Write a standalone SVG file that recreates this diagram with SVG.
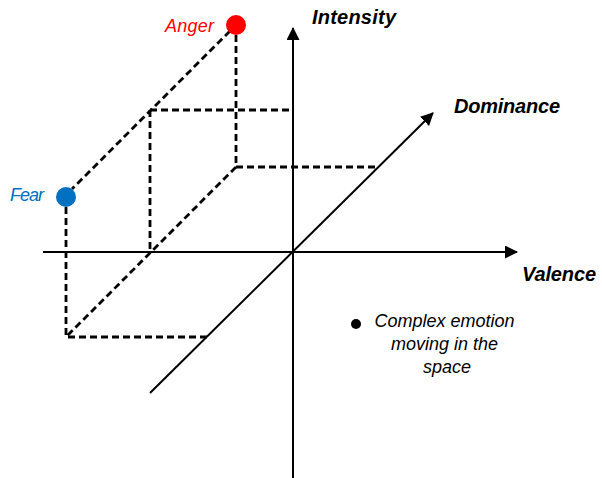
<svg xmlns="http://www.w3.org/2000/svg" width="602" height="478" viewBox="0 0 602 478">
<style>
.axis{stroke:#000;stroke-width:2;fill:none}
.dash{stroke:#000;stroke-width:2.8;fill:none;stroke-dasharray:7 4}
.lbl{font-family:"Liberation Sans",Arial,sans-serif;font-style:italic}
.ax{font-weight:bold;font-size:20px;fill:#000}
</style>
<defs>
<marker id="ah" markerUnits="userSpaceOnUse" markerWidth="13" markerHeight="13" refX="12" refY="6.5" orient="auto">
<path d="M0,0 L13,6.5 L0,13 z" fill="#000"/>
</marker>
</defs>
<rect width="602" height="478" fill="#fff"/>
<g id="connectors">
<line class="axis" x1="293" y1="478" x2="293" y2="28" marker-end="url(#ah)"/>
<line class="axis" x1="43" y1="252" x2="517" y2="252" marker-end="url(#ah)"/>
<line class="axis" x1="150" y1="393" x2="433" y2="113" marker-end="url(#ah)"/>
<path class="dash" d="M230,31 L72,189"/>
<path class="dash" d="M236,35 L236,167 L378,167"/>
<path class="dash" d="M150,110 L292,110"/>
<path class="dash" d="M150,110 L150,252"/>
<path class="dash" d="M236,167 L66,337"/>
<path class="dash" d="M66,207 L66,337 L207,337"/>
</g>
<g id="anger">
<circle cx="236" cy="25" r="10" fill="#ff0000"/>
<text class="lbl" x="165" y="32" font-size="18" fill="#ff0000" textLength="49">Anger</text>
</g>
<g id="fear">
<circle cx="66" cy="197" r="10" fill="#0070c0"/>
<text class="lbl" x="10" y="201" font-size="18" fill="#0070c0" textLength="34">Fear</text>
</g>
<g id="intensity">
<text class="lbl ax" x="312" y="24" textLength="84">Intensity</text>
</g>
<g id="dominance">
<text class="lbl ax" x="454" y="113" textLength="106">Dominance</text>
</g>
<g id="valence">
<text class="lbl ax" x="522" y="281" textLength="74">Valence</text>
</g>
<g id="complex">
<circle cx="356" cy="324" r="5" fill="#000"/>
<text class="lbl" font-size="18" fill="#000" text-anchor="middle">
<tspan x="447" y="327">Complex emotion</tspan>
<tspan x="447" y="350">moving in the</tspan>
<tspan x="447" y="373">space</tspan>
</text>
</g>
</svg>
